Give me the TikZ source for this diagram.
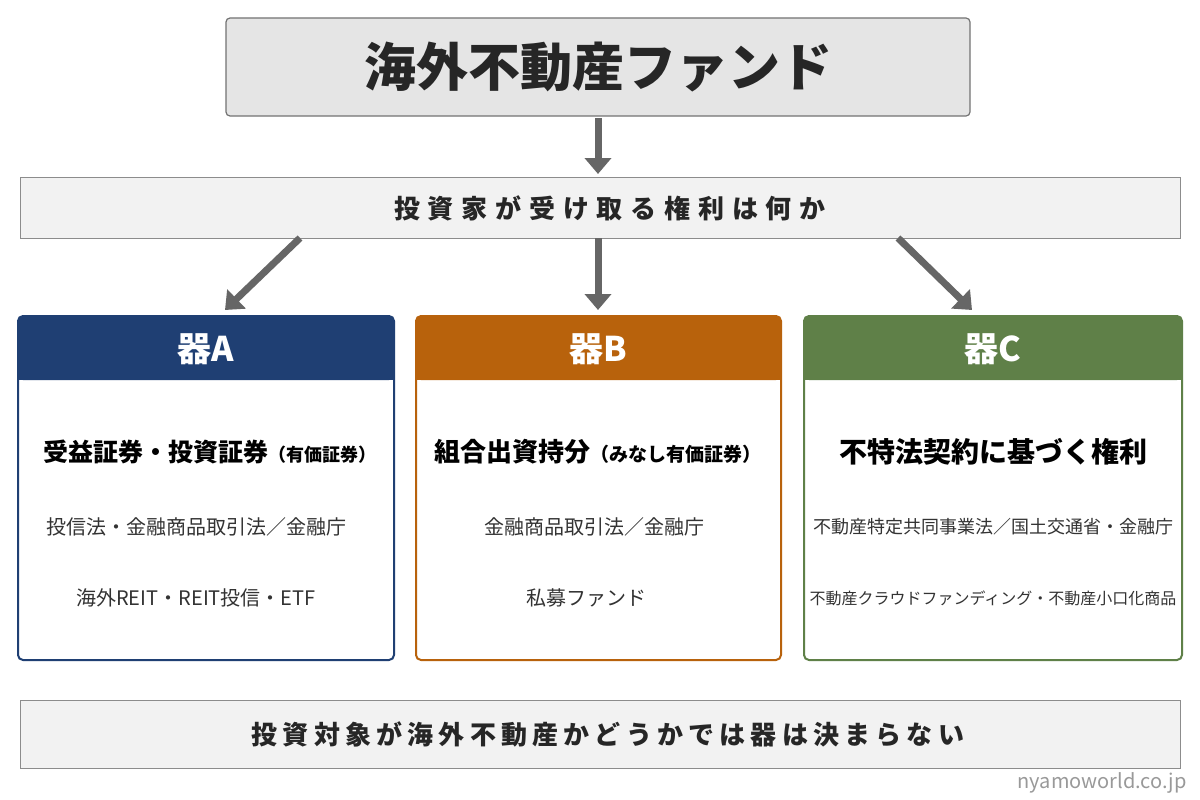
\documentclass[tikz,border=0pt]{standalone}
\usepackage{fontspec}
\setmainfont{Noto Sans CJK JP}
\usetikzlibrary{arrows.meta}
\definecolor{cA}{HTML}{1F3F73}
\definecolor{cB}{HTML}{B8620C}
\definecolor{cC}{HTML}{5F8048}
\definecolor{arr}{HTML}{666666}
\begin{document}
\begin{tikzpicture}[x=1pt,y=-1pt,
 gbox/.style={draw=black!55,line width=1.2pt,rounded corners=4pt},
 arrow/.style={draw=arr,line width=7pt,-{Triangle[length=16pt,width=26pt]}},
 hd/.style={text=white,font=\fontsize{34}{40}\selectfont\bfseries},
 mt/.style={font=\fontsize{26}{32}\selectfont\bfseries},
 st/.style={font=\fontsize{20}{24}\selectfont,text=black!80}]
\useasboundingbox (0,0) rectangle (1200,800);
\fill[white] (0,0) rectangle (1200,800);
\draw[gbox,fill=black!10] (226,18) rectangle (970,116);
\node[font=\fontsize{52}{60}\selectfont\bfseries,text=black!85] (t) at (598,67) {海外不動産ファンド};
\draw[draw=black!45,line width=1pt,fill=black!5] (20,177) rectangle (1180,238);
\node[font=\fontsize{26}{30}\selectfont\bfseries\addfontfeature{LetterSpace=30},text=black!85] (q) at (610,208) {投資家が受け取る権利は何か};
\coordinate (t1) at (598,118); \coordinate (t2) at (598,174);
\draw[arrow] (t1) -- (t2);
\coordinate (a0) at (300,238); \coordinate (a1) at (225,310);
\coordinate (b0) at (598,238); \coordinate (b1) at (598,310);
\coordinate (c0) at (898,238); \coordinate (c1) at (972,310);
\draw[arrow] (a0) -- (a1); \draw[arrow] (b0) -- (b1); \draw[arrow] (c0) -- (c1);
\foreach \x/\w/\c in {18/394/cA,416/781/cB,804/1182/cC}{
 \draw[\c,line width=2pt,rounded corners=5pt,fill=white] (\x,316) rectangle (\w,660);
 \fill[\c,rounded corners=5pt] (\x,316) rectangle (\w,380);
 \fill[\c] (\x,360) rectangle (\w,380);
}
\node[hd] (ha) at (206,349) {器A};
\node[hd] (hb) at (598,349) {器B};
\node[hd] (hc) at (993,349) {器C};
\node[mt,font=\fontsize{25}{30}\selectfont\bfseries] (ma) at (210,452) {受益証券・投資証券\fontsize{18}{22}\selectfont（有価証券）};
\node[mt] (mb) at (598,452) {組合出資持分\fontsize{19}{24}\selectfont（みなし有価証券）};
\node[mt,font=\fontsize{28}{32}\selectfont\bfseries] (mc) at (993,452) {不特法契約に基づく権利};
\node[st] (a2) at (196,527) {投信法・金融商品取引法／金融庁};
\node[st] (b2) at (594,527) {金融商品取引法／金融庁};
\node[st,font=\fontsize{18}{22}\selectfont] (c2) at (993,527) {不動産特定共同事業法／国土交通省・金融庁};
\node[st] (a3) at (196,598) {海外REIT・REIT投信・ETF};
\node[st] (b3) at (586,598) {私募ファンド};
\node[st,font=\fontsize{16}{20}\selectfont] (c3) at (993,598) {不動産クラウドファンディング・不動産小口化商品};
\draw[draw=black!45,line width=1pt,fill=black!5] (20,700) rectangle (1180,768);
\node[font=\fontsize{26}{30}\selectfont\bfseries\addfontfeature{LetterSpace=20},text=black!85] (bt) at (608,734) {投資対象が海外不動産かどうかでは器は決まらない};
\node[font=\fontsize{20}{24}\selectfont,text=black!40,anchor=east] (wm) at (1190,783) {nyamoworld.co.jp};
\end{tikzpicture}
\end{document}
